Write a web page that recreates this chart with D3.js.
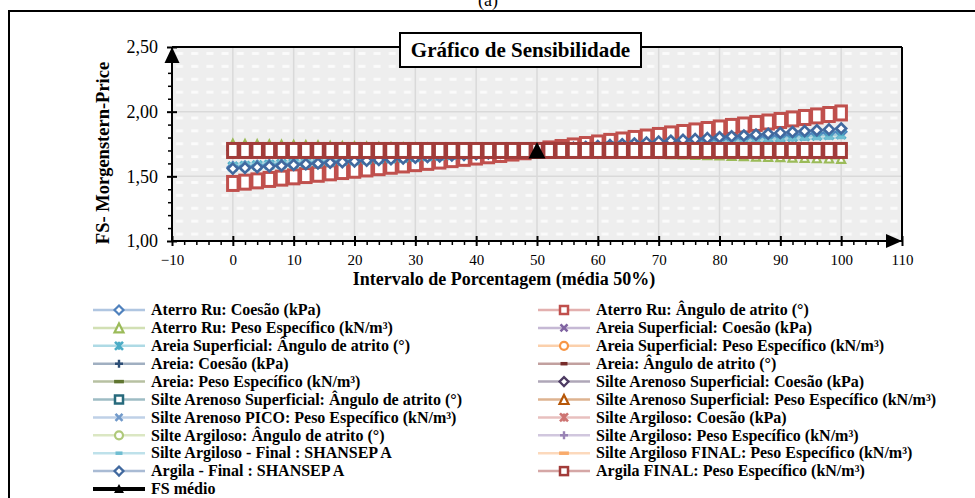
<!DOCTYPE html>
<html>
<head>
<meta charset="utf-8">
<script src="https://cdn.jsdelivr.net/npm/d3@7"></script>
<style>
  body { margin: 0; background: #fff; }
  svg { display: block; font-family: "Liberation Serif", "Times New Roman", serif; }
</style>
</head>
<body>
<svg id="chart" width="975" height="498"></svg>
<script>
// percent of the range (x) and FS values for each parameter (y)
const pct = [0,2,4,6,8,10,12,14,16,18,20,22,24,26,28,30,32,34,36,38,40,42,44,46,48,50,
             52,54,56,58,60,62,64,66,68,70,72,74,76,78,80,82,84,86,88,90,92,94,96,98,100]

const aterroCoesao = [1.570,1.575,1.580,1.586,1.591,1.596,1.601,1.606,1.612,1.617,1.622,1.627,1.632,
  1.638,1.643,1.648,1.653,1.658,1.664,1.669,1.674,1.679,1.684,1.690,1.695,1.700,
  1.706,1.712,1.717,1.723,1.729,1.735,1.741,1.746,1.752,1.758,1.764,1.770,1.775,
  1.781,1.787,1.793,1.799,1.804,1.810,1.816,1.822,1.828,1.833,1.839,1.845]
const aterroAtrito = [1.445,1.455,1.465,1.476,1.486,1.496,1.506,1.516,1.527,1.537,1.547,1.557,1.567,
  1.578,1.588,1.598,1.608,1.618,1.629,1.639,1.649,1.659,1.669,1.680,1.690,1.700,
  1.712,1.723,1.735,1.746,1.758,1.770,1.781,1.793,1.804,1.816,1.828,1.839,1.851,
  1.862,1.874,1.886,1.897,1.909,1.920,1.932,1.944,1.955,1.967,1.978,1.990]
const aterroPeso = [1.752,1.750,1.748,1.746,1.744,1.742,1.740,1.738,1.735,1.733,1.731,1.729,1.727,
  1.725,1.723,1.721,1.719,1.717,1.715,1.713,1.710,1.708,1.706,1.704,1.702,1.700,
  1.697,1.695,1.692,1.690,1.687,1.684,1.682,1.679,1.677,1.674,1.671,1.669,1.666,
  1.664,1.661,1.658,1.656,1.653,1.651,1.648,1.645,1.643,1.640,1.638,1.635]
const areiaSupCoesao = [1.690,1.690,1.691,1.691,1.692,1.692,1.692,1.693,1.693,1.694,1.694,1.694,1.695,
  1.695,1.696,1.696,1.696,1.697,1.697,1.698,1.698,1.698,1.699,1.699,1.700,1.700,
  1.700,1.701,1.701,1.702,1.702,1.702,1.703,1.703,1.704,1.704,1.704,1.705,1.705,
  1.706,1.706,1.706,1.707,1.707,1.708,1.708,1.708,1.709,1.709,1.710,1.710]
const areiaSupAtrito = [1.575,1.580,1.585,1.590,1.595,1.600,1.605,1.610,1.615,1.620,1.625,1.630,1.635,
  1.640,1.645,1.650,1.655,1.660,1.665,1.670,1.675,1.680,1.685,1.690,1.695,1.700,
  1.705,1.710,1.715,1.720,1.725,1.730,1.735,1.740,1.745,1.750,1.755,1.760,1.765,
  1.770,1.775,1.780,1.785,1.790,1.795,1.800,1.805,1.810,1.815,1.820,1.825]
const areiaSupPeso = [1.72,1.72,1.72,1.72,1.72,1.72,1.71,1.71,1.71,1.71,1.71,1.71,1.71,
  1.71,1.71,1.71,1.71,1.71,1.71,1.70,1.70,1.70,1.70,1.70,1.70,1.70,
  1.70,1.70,1.70,1.70,1.70,1.70,1.69,1.69,1.69,1.69,1.69,1.69,1.69,
  1.69,1.69,1.69,1.69,1.69,1.69,1.68,1.68,1.68,1.68,1.68,1.68]
const areiaAtrito = [1.67,1.67,1.67,1.67,1.68,1.68,1.68,1.68,1.68,1.68,1.68,1.68,1.69,
  1.69,1.69,1.69,1.69,1.69,1.69,1.69,1.69,1.70,1.70,1.70,1.70,1.70,
  1.70,1.70,1.70,1.70,1.71,1.71,1.71,1.71,1.71,1.71,1.71,1.71,1.71,
  1.72,1.72,1.72,1.72,1.72,1.72,1.72,1.72,1.73,1.73,1.73,1.73]
const areiaPeso = [1.71,1.71,1.71,1.71,1.71,1.71,1.71,1.71,1.71,1.71,1.71,1.71,1.71,
  1.70,1.70,1.70,1.70,1.70,1.70,1.70,1.70,1.70,1.70,1.70,1.70,1.70,
  1.70,1.70,1.70,1.70,1.70,1.70,1.70,1.70,1.70,1.70,1.70,1.70,1.69,
  1.69,1.69,1.69,1.69,1.69,1.69,1.69,1.69,1.69,1.69,1.69,1.69]
const siltSupAtrito = [1.68,1.68,1.68,1.68,1.68,1.68,1.69,1.69,1.69,1.69,1.69,1.69,1.69,
  1.69,1.69,1.69,1.69,1.69,1.69,1.70,1.70,1.70,1.70,1.70,1.70,1.70,
  1.70,1.70,1.70,1.70,1.70,1.70,1.71,1.71,1.71,1.71,1.71,1.71,1.71,
  1.71,1.71,1.71,1.71,1.71,1.71,1.72,1.72,1.72,1.72,1.72,1.72]
const siltArgCoesao = [1.69,1.69,1.69,1.69,1.69,1.69,1.69,1.69,1.69,1.69,1.69,1.69,1.69,
  1.70,1.70,1.70,1.70,1.70,1.70,1.70,1.70,1.70,1.70,1.70,1.70,1.70,
  1.70,1.70,1.70,1.70,1.70,1.70,1.70,1.70,1.70,1.70,1.70,1.70,1.71,
  1.71,1.71,1.71,1.71,1.71,1.71,1.71,1.71,1.71,1.71,1.71,1.71]
const siltArgAtrito = [1.72,1.72,1.72,1.72,1.71,1.71,1.71,1.71,1.71,1.71,1.71,1.71,1.71,
  1.71,1.70,1.70,1.70,1.70,1.70,1.70,1.70,1.70,1.70,1.70,1.70,1.70,
  1.70,1.70,1.70,1.70,1.70,1.70,1.70,1.70,1.70,1.70,1.70,1.69,1.69,
  1.69,1.69,1.69,1.69,1.69,1.69,1.69,1.69,1.68,1.68,1.68,1.68]
const siltArgShansep = [1.595,1.599,1.603,1.608,1.612,1.616,1.620,1.624,1.629,1.633,1.637,1.641,1.645,
  1.650,1.654,1.658,1.662,1.666,1.671,1.675,1.679,1.683,1.687,1.692,1.696,1.700,
  1.704,1.708,1.712,1.716,1.720,1.724,1.728,1.732,1.736,1.740,1.744,1.748,1.752,
  1.756,1.760,1.764,1.768,1.772,1.776,1.780,1.784,1.788,1.792,1.796,1.800]
const argilaShansep = [1.560,1.566,1.571,1.577,1.582,1.588,1.594,1.599,1.605,1.610,1.616,1.622,1.627,
  1.633,1.638,1.644,1.650,1.655,1.661,1.666,1.672,1.678,1.683,1.689,1.694,1.700,
  1.707,1.714,1.720,1.727,1.734,1.741,1.748,1.754,1.761,1.768,1.775,1.782,1.788,
  1.795,1.802,1.809,1.816,1.822,1.829,1.836,1.843,1.850,1.856,1.863,1.870]
// parameters that did not change the FS
const fsFlat = [1.70,1.70,1.70,1.70,1.70,1.70,1.70,1.70,1.70,1.70,1.70,1.70,1.70,
  1.70,1.70,1.70,1.70,1.70,1.70,1.70,1.70,1.70,1.70,1.70,1.70,1.70,
  1.70,1.70,1.70,1.70,1.70,1.70,1.70,1.70,1.70,1.70,1.70,1.70,1.70,
  1.70,1.70,1.70,1.70,1.70,1.70,1.70,1.70,1.70,1.70,1.70,1.70]

const fsMedioX = [50]
const fsMedioY = [1.70]

const seriesNames = [
  "Aterro Ru: Coesão (kPa)", "Aterro Ru: Ângulo de atrito (°)",
  "Aterro Ru: Peso Específico (kN/m³)", "Areia Superficial: Coesão (kPa)",
  "Areia Superficial: Ângulo de atrito (°)", "Areia Superficial: Peso Específico (kN/m³)",
  "Areia: Coesão (kPa)", "Areia: Ângulo de atrito (°)",
  "Areia: Peso Específico (kN/m³)", "Silte Arenoso Superficial: Coesão (kPa)",
  "Silte Arenoso Superficial: Ângulo de atrito (°)", "Silte Arenoso Superficial: Peso Específico (kN/m³)",
  "Silte Arenoso PICO: Peso Específico (kN/m³)", "Silte Argiloso: Coesão (kPa)",
  "Silte Argiloso: Ângulo de atrito (°)", "Silte Argiloso: Peso Específico (kN/m³)",
  "Silte Argiloso - Final : SHANSEP A", "Silte Argiloso FINAL: Peso Específico (kN/m³)",
  "Argila - Final : SHANSEP A", "Argila FINAL: Peso Específico (kN/m³)"
]
const seriesValues = [
  aterroCoesao, aterroAtrito, aterroPeso, areiaSupCoesao, areiaSupAtrito, areiaSupPeso,
  fsFlat, areiaAtrito, areiaPeso, fsFlat, siltSupAtrito, fsFlat,
  fsFlat, siltArgCoesao, siltArgAtrito, fsFlat, siltArgShansep, fsFlat,
  argilaShansep, fsFlat
]
const seriesColors = [
  "#4F81BD", "#C0504D", "#9BBB59", "#8064A2", "#4BACC6", "#F79646",
  "#2C4D75", "#772C2A", "#5F7530", "#4D3B62", "#276A7C", "#B65708",
  "#729ACA", "#CD7371", "#AFC97A", "#9983B5", "#6FBDD1", "#F9AB6B",
  "#41699F", "#A23C3A"
]
const seriesMarkers = [
  "diamond", "square", "triangle", "x", "star", "circle", "plus", "dash", "longdash",
  "diamond", "square", "triangle", "x", "star", "circle", "plus", "dash", "longdash",
  "diamond", "square"
]

const xTicks = [-10,0,10,20,30,40,50,60,70,80,90,100,110]
const yTicks = [1.0,1.5,2.0,2.5]

// small helper: set many attributes at once
d3.selection.prototype.attrs = function (o) {
  for (let k in o) this.attr(k, o[k])
  return this
}

let svg = d3.select("#chart")

let x = d3.scaleLinear().domain([-10, 110]).range([172, 902]),
    y = d3.scaleLinear().domain([1, 2.5]).range([241, 47])

let fmt = d3.formatLocale({decimal: ",", thousands: ".", grouping: [3], currency: ["", ""]}).format(".2f")

// outer frame and caption
svg.append("rect")
  .attrs({x: 9, y: 11, width: 1000, height: 500, fill: "none", stroke: "#000", "stroke-width": 2})
svg.append("text")
  .attrs({x: 488, y: 6, "text-anchor": "middle", "font-size": 18})
  .text("(a)")

// plot background pattern
let pat = svg.append("defs").append("pattern")
  .attrs({id: "bg", patternUnits: "userSpaceOnUse", x: 172, y: 47, width: 15.2, height: 12.9})
pat.append("rect").attrs({width: 15.2, height: 12.9, fill: "#eeeeee"})
pat.append("rect").attrs({x: 4, y: 5, width: 7, height: 3, fill: "#fbfbfb"})

svg.append("rect")
  .attrs({x: x(-10), y: y(2.5), width: x(110) - x(-10), height: y(1) - y(2.5), fill: "url(#bg)"})

// grid
let grid = svg.append("g").attr("stroke", "#d9d9d9").attr("stroke-width", 1.5)
grid.selectAll(".gx")
  .data(xTicks.slice(1, -1)).enter()
  .append("line")
  .attrs({x1: d => x(d), x2: d => x(d), y1: y(1), y2: y(2.5)})
grid.selectAll(".gy")
  .data(yTicks.slice(1, -1)).enter()
  .append("line")
  .attrs({x1: x(-10), x2: x(110), y1: d => y(d), y2: d => y(d)})

// markers
function drawMarker(g, type, color, w, h, sw) {
  h = h || w
  if (type == "square") {
    g.append("rect").attrs({x: -w / 2, y: -h / 2, width: w, height: h, fill: "#fff", stroke: color, "stroke-width": sw})
  } else if (type == "diamond") {
    g.append("path").attrs({d: `M0,${-h / 2}L${w / 2},0L0,${h / 2}L${-w / 2},0Z`, fill: "#fff", stroke: color, "stroke-width": sw})
  } else if (type == "triangle") {
    g.append("path").attrs({d: `M0,${-h / 2}L${w / 2},${h / 2}L${-w / 2},${h / 2}Z`, fill: "#fff", stroke: color, "stroke-width": sw})
  } else if (type == "circle") {
    g.append("circle").attrs({r: w / 2, fill: "#fff", stroke: color, "stroke-width": sw})
  } else if (type == "x" || type == "star") {
    let s = w / 2
    let d = `M${-s},${-s}L${s},${s}M${-s},${s}L${s},${-s}`
    if (type == "star") d += `M0,${-s}L0,${s}`
    g.append("path").attrs({d: d, fill: "none", stroke: color, "stroke-width": sw + 0.6})
  } else if (type == "plus") {
    let s = w / 2
    g.append("path").attrs({d: `M${-s},0L${s},0M0,${-s}L0,${s}`, fill: "none", stroke: color, "stroke-width": sw + 0.4})
  } else if (type == "dash" || type == "longdash") {
    let len = type == "dash" ? w : w * 1.4
    g.append("rect").attrs({x: -len / 2, y: -1.75, width: len, height: 3.5, fill: color})
  }
}

const chartSize = {square: [10.5, 14, 3], diamond: [10, 10, 2.6], triangle: [8, 8, 2.2],
  x: [8, 8, 2.2], star: [9, 9, 2.4], circle: [7, 7, 2.2], plus: [8, 8, 2.2], dash: [8, 8, 0], longdash: [8, 8, 0]}

let line = d3.line()
  .x((d, i) => x(pct[i]))
  .y(d => y(d))

seriesValues.forEach((vals, s) => {
  let g = svg.append("g")
  g.append("path")
    .attrs({d: line(vals), fill: "none", stroke: seriesColors[s], "stroke-width": 2.5, "stroke-opacity": 0.5})
  let m = seriesMarkers[s], sz = chartSize[m]
  if (s == 10) sz = [7, 7, 2.2]
  g.selectAll("g")
    .data(vals).enter()
    .append("g")
    .attr("transform", (d, i) => `translate(${x(pct[i])},${y(d)})`)
    .each(function () { drawMarker(d3.select(this), m, seriesColors[s], sz[0], sz[1], sz[2]) })
})

// FS médio
svg.selectAll(".fs")
  .data(fsMedioY).enter()
  .append("path")
  .attr("transform", (d, i) => `translate(${x(fsMedioX[i])},${y(d)})`)
  .attrs({d: "M0,-8.5L8.5,8L-8.5,8Z", fill: "#000"})

// frame (top / right) and axes
let frame = svg.append("g").attr("stroke", "#000").attr("stroke-width", 2)
frame.append("line").attrs({x1: x(-10), x2: x(110), y1: y(2.5), y2: y(2.5)})
frame.append("line").attrs({x1: x(110), x2: x(110), y1: y(2.5), y2: y(1)})
frame.append("line").attrs({x1: x(-10), x2: x(-10), y1: y(2.5), y2: y(1)})
frame.append("line").attrs({x1: x(-10), x2: x(110), y1: y(1), y2: y(1)})

let yAxis = svg.append("g")
  .attr("transform", `translate(${x(-10)},0)`)
  .call(d3.axisLeft(y).tickValues(yTicks).tickFormat(fmt).tickSize(5).tickPadding(9))
yAxis.select(".domain").remove()
yAxis.attr("font-family", null).attr("font-size", null)
yAxis.selectAll(".tick line").attrs({x1: 5, stroke: "#000", "stroke-width": 2})
yAxis.selectAll(".tick text").attrs({"font-size": 18, fill: "#000"})

let yMinor = svg.append("g")
  .attr("transform", `translate(${x(-10)},0)`)
  .call(d3.axisLeft(y).tickValues(y.ticks(15).filter(v => Math.abs(v * 2 - Math.round(v * 2)) > 1e-6)).tickFormat("").tickSize(4))
yMinor.select(".domain").remove()
yMinor.selectAll(".tick line").attrs({stroke: "#000", "stroke-width": 1.5})

let xAxis = svg.append("g")
  .attr("transform", `translate(0,${y(1)})`)
  .call(d3.axisBottom(x).tickValues(xTicks).tickSize(5).tickPadding(8))
xAxis.select(".domain").remove()
xAxis.attr("font-family", null).attr("font-size", null)
xAxis.selectAll(".tick line").attrs({y1: -5, stroke: "#000", "stroke-width": 2})
xAxis.selectAll(".tick text").attrs({"font-size": 15, fill: "#000"})

let xMinor = svg.append("g")
  .attr("transform", `translate(0,${y(1)})`)
  .call(d3.axisBottom(x).tickValues(x.ticks(60).filter(v => v % 10 != 0)).tickFormat("").tickSize(4))
xMinor.select(".domain").remove()
xMinor.selectAll(".tick line").attrs({stroke: "#000", "stroke-width": 1.5})

// arrow heads
svg.append("path")
  .attr("d", `M${x(-10)},${y(2.5)}L${x(-10) + 7.5},${y(2.5) + 16}L${x(-10) - 7.5},${y(2.5) + 16}Z`)
svg.append("path")
  .attr("d", `M${x(110)},${y(1)}L${x(110) - 16},${y(1) - 7}L${x(110) - 16},${y(1) + 7}Z`)

// axis titles
svg.append("text")
  .attrs({x: 504, y: 285, "text-anchor": "middle", "font-size": 18, "font-weight": "bold"})
  .text("Intervalo de Porcentagem (média 50%)")
svg.append("text")
  .attrs({transform: "translate(109,153) rotate(-90)", "text-anchor": "middle", "font-size": 18.5, "font-weight": "bold"})
  .text("FS- Morgenstern-Price")

// chart title box
svg.append("rect")
  .attrs({x: 400, y: 33, width: 241, height: 34, fill: "#fff", stroke: "#000", "stroke-width": 2})
svg.append("text")
  .attrs({x: 520.5, y: 57, "text-anchor": "middle", "font-size": 21, "font-weight": "bold"})
  .text("Gráfico de Sensibilidade")

// legend
const legendSize = {square: [8, 8, 2.5], diamond: [9, 9, 2.2], triangle: [9, 9, 2.2],
  x: [7, 7, 2], star: [8, 8, 2], circle: [8, 8, 2.2], plus: [8, 8, 2], dash: [7, 7, 0], longdash: [7, 7, 0]}

let legend = svg.append("g")
seriesNames.forEach((name, i) => {
  let col = i % 2, row = Math.floor(i / 2)
  let lx = col == 0 ? 93 : 538, ty = 310 + row * 17.9
  let g = legend.append("g")
  g.append("line")
    .attrs({x1: lx, x2: lx + 52, y1: ty, y2: ty, stroke: seriesColors[i], "stroke-width": 2.5, "stroke-opacity": 0.45})
  let m = seriesMarkers[i], sz = legendSize[m]
  drawMarker(g.append("g").attr("transform", `translate(${lx + 26},${ty})`), m, seriesColors[i], sz[0], sz[1], sz[2])
  g.append("text")
    .attrs({x: lx + 58, y: ty, dy: "0.33em", "font-size": 16, "font-weight": "bold"})
    .text(name)
})
// FS médio entry
let fy = 310 + 10 * 17.9
legend.append("line").attrs({x1: 93, x2: 145, y1: fy, y2: fy, stroke: "#000", "stroke-width": 4})
legend.append("path").attrs({d: `M119,${fy - 5}L124,${fy + 4}L114,${fy + 4}Z`, fill: "#000"})
legend.append("text")
  .attrs({x: 151, y: fy, dy: "0.33em", "font-size": 16, "font-weight": "bold"})
  .text("FS médio")
</script>
</body>
</html>
